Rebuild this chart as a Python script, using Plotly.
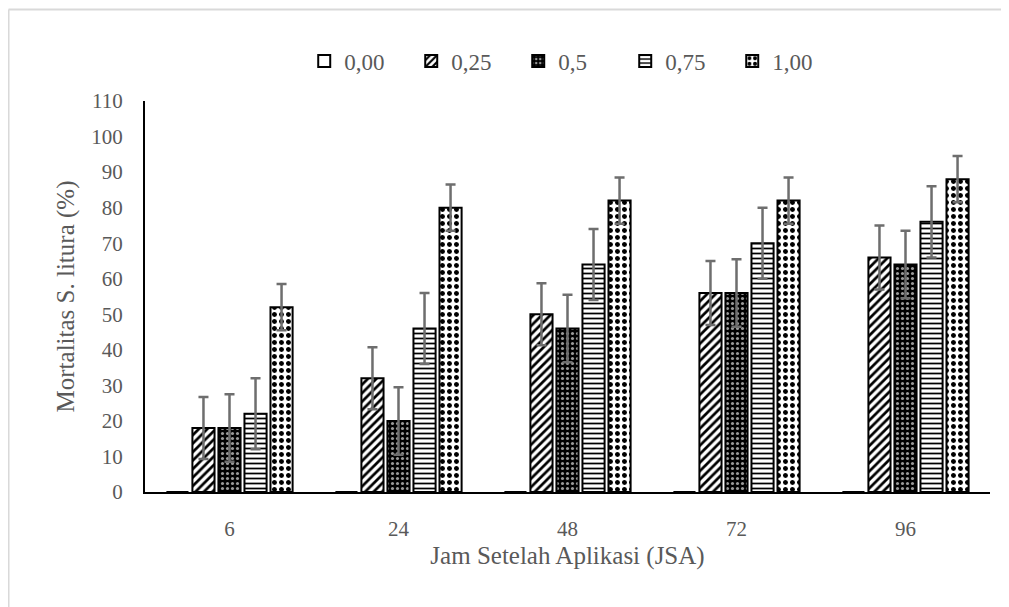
import plotly.graph_objects as go

categories = ["6", "24", "48", "72", "96"]
series_names = ["0,00", "0,25", "0,5", "0,75", "1,00"]
v000 = [0, 0, 0, 0, 0]
v025 = [18, 32, 50, 56, 66]
v050 = [18, 20, 46, 56, 64]
v075 = [22, 46, 64, 70, 76]
v100 = [52, 80, 82, 82, 88]
e000 = [0, 0, 0, 0, 0]
e025 = [8.7, 8.7, 8.7, 9, 9]
e050 = [9.5, 9.5, 9.5, 9.5, 9.5]
e075 = [10, 10, 10, 10, 10]
e100 = [6.5, 6.5, 6.5, 6.5, 6.5]

values = [v000, v025, v050, v075, v100]
errors = [e000, e025, e050, e075, e100]

patterns = [
    dict(shape="", bgcolor="white"),
    dict(shape="/", fgcolor="black", bgcolor="white", size=6, solidity=0.45, fillmode="replace"),
    dict(shape=".", fgcolor="#9a9a9a", bgcolor="black", size=5, solidity=0.3, fillmode="replace"),
    dict(shape="-", fgcolor="black", bgcolor="white", size=5, solidity=0.35, fillmode="replace"),
    dict(shape=".", fgcolor="black", bgcolor="white", size=7, solidity=0.4, fillmode="replace"),
]

FONT = "Times New Roman"
GRAY = "#595959"

fig = go.Figure()
for name, v, e, p in zip(series_names, values, errors, patterns):
    fig.add_trace(go.Bar(
        x=categories, y=v, name=name,
        marker=dict(color="white", line=dict(color="black", width=2), pattern=p),
        error_y=dict(type="data", array=e, visible=(max(e) > 0),
                     color="#6e6e6e", thickness=2.5, width=5),
    ))

fig.update_layout(
    width=1009, height=607,
    margin=dict(l=137, r=27, t=93, b=123, autoexpand=False),
    paper_bgcolor="white", plot_bgcolor="white",
    barmode="group", bargap=0.23, bargroupgap=0.15,
    font=dict(family=FONT, color=GRAY, size=21),
    showlegend=True,
    legend=dict(orientation="h", x=0.505, xanchor="center", y=1.102, yanchor="middle",
                font=dict(family=FONT, color=GRAY, size=23),
                entrywidth=62, entrywidthmode="pixels",
                itemwidth=30, traceorder="normal"),
    xaxis=dict(type="category", showline=True, linecolor="black", linewidth=2,
               showgrid=False, ticks="", ticklabelstandoff=17, automargin=False,
               tickfont=dict(family=FONT, color=GRAY, size=21),
               title=dict(text="Jam Setelah Aplikasi (JSA)", standoff=6,
                          font=dict(family=FONT, color=GRAY, size=25))),
    yaxis=dict(range=[0, 110], dtick=10, showline=True, linecolor="black", linewidth=2,
               showgrid=False, zeroline=False, ticks="", ticklabelstandoff=16,
               automargin=False,
               tickfont=dict(family=FONT, color=GRAY, size=21),
               title=dict(text="Mortalitas S. litura (%)", standoff=10,
                          font=dict(family=FONT, color=GRAY, size=25))),
    shapes=[
        dict(type="line", xref="paper", yref="paper", x0=-0.1615, x1=1.05,
             y0=1.234, y1=1.234, line=dict(color="#d9d9d9", width=2)),
        dict(type="line", xref="paper", yref="paper", x0=-0.1615, x1=-0.1615,
             y0=1.234, y1=-0.35, line=dict(color="#d9d9d9", width=2)),
    ],
)

fig.write_html("out.html")
